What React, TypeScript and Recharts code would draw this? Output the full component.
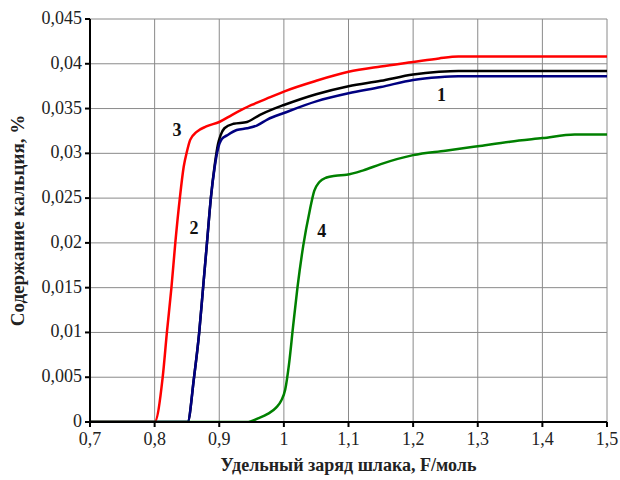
import { LineChart, Line, XAxis, YAxis, CartesianGrid, ReferenceDot } from "recharts";

// кривая 1 (синяя)
const x1 = [0.7, 0.851, 0.861, 0.869, 0.875, 0.881, 0.887, 0.893, 0.898, 0.904, 0.912, 0.927, 0.943, 0.958, 0.975, 1.0, 1.05, 1.1, 1.15, 1.2, 1.24, 1.27, 1.3, 1.4, 1.5];
const y1 = [0, 0, 0.005, 0.01, 0.015, 0.02, 0.025, 0.0285, 0.0305, 0.0316, 0.032, 0.0326, 0.0328, 0.0331, 0.0338, 0.0345, 0.0358, 0.0367, 0.0374, 0.0382, 0.0385, 0.0386, 0.0386, 0.0386, 0.0386];

// кривая 2 (чёрная)
const x2 = [0.7, 0.851, 0.861, 0.869, 0.875, 0.881, 0.887, 0.893, 0.898, 0.902, 0.908, 0.922, 0.943, 0.963, 0.985, 1.0, 1.05, 1.1, 1.15, 1.2, 1.24, 1.27, 1.3, 1.4, 1.5];
const y2 = [0, 0, 0.005, 0.01, 0.015, 0.02, 0.025, 0.0287, 0.031, 0.032, 0.0328, 0.0333, 0.0335, 0.0343, 0.035, 0.0354, 0.0366, 0.0375, 0.0381, 0.0388, 0.0391, 0.0392, 0.0392, 0.0392, 0.0392];

// кривая 3 (красная)
const x3 = [0.7, 0.8, 0.8125, 0.819, 0.826, 0.832, 0.839, 0.845, 0.85, 0.855, 0.865, 0.88, 0.9, 0.92, 0.95, 0.98, 1.0, 1.05, 1.1, 1.15, 1.2, 1.24, 1.27, 1.3, 1.4, 1.5];
const y3 = [0, 0, 0.005, 0.01, 0.015, 0.02, 0.025, 0.0285, 0.0302, 0.0315, 0.0324, 0.033, 0.0335, 0.0343, 0.0354, 0.0363, 0.0369, 0.0381, 0.0391, 0.0397, 0.0402, 0.0406, 0.0408, 0.0408, 0.0408, 0.0408];

// кривая 4 (зелёная)
const x4 = [0.7, 0.945, 0.96, 0.975, 0.988, 0.996, 1.002, 1.008, 1.014, 1.021, 1.03, 1.04, 1.047, 1.055, 1.066, 1.08, 1.097, 1.123, 1.15, 1.2, 1.25, 1.3, 1.35, 1.4, 1.45, 1.5];
const y4 = [0, 0, 0.0004, 0.0009, 0.0016, 0.0024, 0.0036, 0.0065, 0.0105, 0.015, 0.0197, 0.0236, 0.0258, 0.0268, 0.0273, 0.0275, 0.0276, 0.0281, 0.0288, 0.0298, 0.0303, 0.0308, 0.0313, 0.0317, 0.0321, 0.0321];

const xTicks = [0.7, 0.8, 0.9, 1, 1.1, 1.2, 1.3, 1.4, 1.5];
const yTicks = [0, 0.005, 0.01, 0.015, 0.02, 0.025, 0.03, 0.035, 0.04, 0.045];

// подписи кривых
const labelNames = ["1", "2", "3", "4"];
const labelX = [1.244, 0.861, 0.8347, 1.0587];
const labelY = [0.0365, 0.0217, 0.0326, 0.0213];

const zip = (xs: number[], ys: number[]) => xs.map((x, i) => ({ x, y: ys[i] }));

const series = [
  { name: "3", data: zip(x3, y3), color: "#ff0000" },
  { name: "2", data: zip(x2, y2), color: "#000000" },
  { name: "1", data: zip(x1, y1), color: "#000080" },
  { name: "4", data: zip(x4, y4), color: "#008000" },
];

const FONT = "Liberation Serif";
const comma = (v: number) => String(v).replace(".", ",");

function XTick({ x, y, payload }: any) {
  return (
    <text x={x} y={y + 16} textAnchor="middle" fontFamily={FONT} fontSize={18} fill="#222">
      {comma(payload.value)}
    </text>
  );
}

function YTick({ x, y, payload }: any) {
  return (
    <text x={x - 1} y={y + 5} textAnchor="end" fontFamily={FONT} fontSize={18} fill="#222">
      {comma(payload.value)}
    </text>
  );
}

export default function App() {
  return (
    <div style={{ position: "absolute", left: 0, top: 0, background: "#fff", fontFamily: FONT }}>
      <LineChart width={620} height={480} margin={{ top: 19, right: 13, bottom: 0, left: 0 }}>
        <CartesianGrid stroke="#8a8a8a" strokeWidth={1} horizontalValues={yTicks} verticalValues={xTicks} />
        <XAxis
          type="number"
          dataKey="x"
          domain={[0.7, 1.5]}
          ticks={xTicks}
          allowDataOverflow
          height={58}
          tickSize={5}
          axisLine={{ stroke: "#000", strokeWidth: 2 }}
          tickLine={{ stroke: "#000", strokeWidth: 2 }}
          tick={<XTick />}
          label={{
            value: "Удельный заряд шлака, F/моль",
            position: "insideBottom",
            offset: 9,
            style: { fontFamily: FONT, fontSize: 18, fontWeight: "bold", fill: "#222" },
          }}
        />
        <YAxis
          type="number"
          domain={[0, 0.045]}
          ticks={yTicks}
          allowDataOverflow
          width={90}
          tickSize={5}
          axisLine={{ stroke: "#000", strokeWidth: 2 }}
          tickLine={{ stroke: "#000", strokeWidth: 2 }}
          tick={<YTick />}
          label={{
            value: "Содержание кальция, %",
            angle: -90,
            position: "insideLeft",
            offset: 17,
            style: { fontFamily: FONT, fontSize: 19, fontWeight: "bold", fill: "#222", textAnchor: "middle" },
          }}
        />
        {series.map((s) => (
          <Line
            key={s.name}
            data={s.data}
            dataKey="y"
            type="monotone"
            stroke={s.color}
            strokeWidth={2.5}
            dot={false}
            activeDot={false}
            isAnimationActive={false}
          />
        ))}
        {labelNames.map((n, i) => (
          <ReferenceDot
            key={n}
            x={labelX[i]}
            y={labelY[i]}
            r={0}
            shape={(p: any) => (
              <text
                x={p.cx}
                y={p.cy}
                textAnchor="middle"
                dominantBaseline="central"
                fontFamily={FONT}
                fontSize={18}
                fontWeight="bold"
                fill="#111"
              >
                {n}
              </text>
            )}
          />
        ))}
      </LineChart>
    </div>
  );
}
